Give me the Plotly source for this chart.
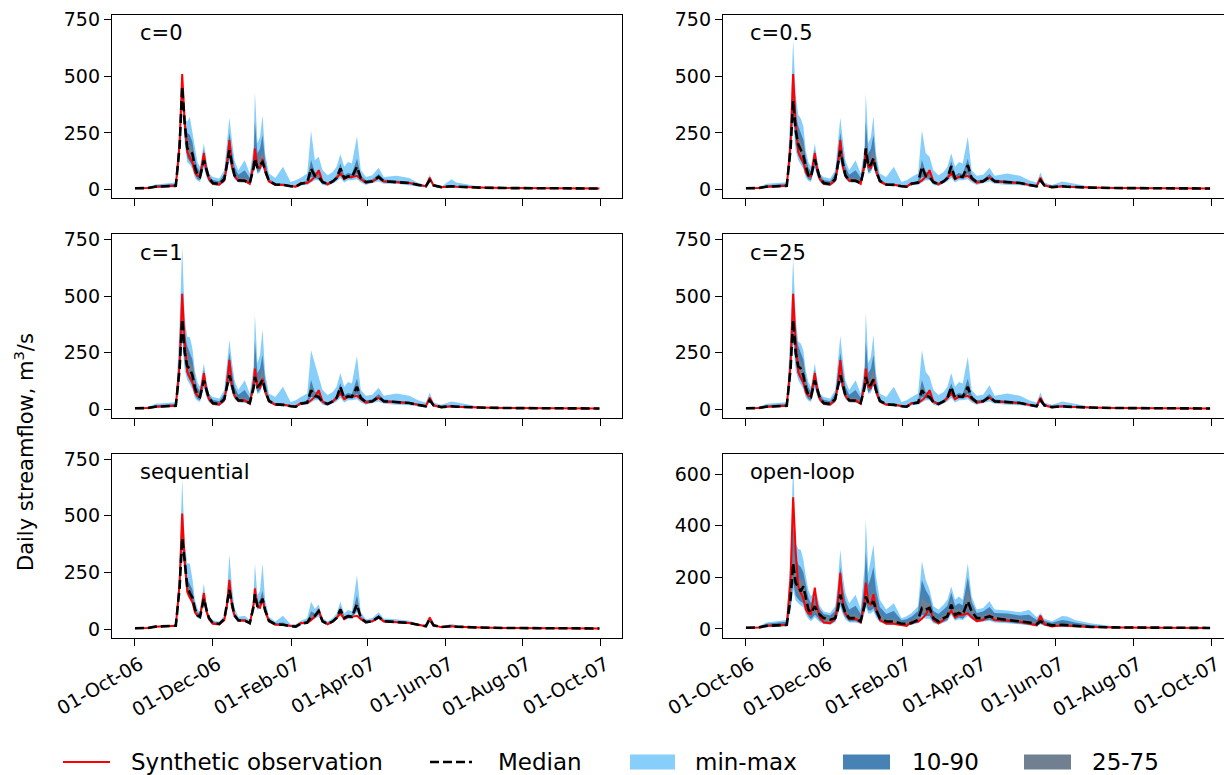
import pandas as pd
import plotly.graph_objects as go
from plotly.subplots import make_subplots

# ---------------- data ----------------
DAYS = [0, 10, 16, 25, 32, 35, 37, 39, 41, 43, 45, 47, 49, 51, 54, 56, 58, 61, 66, 70,
        72, 74, 76, 78, 81, 86, 90, 93, 94, 96, 98, 100, 102, 105, 110, 116, 122, 126, 130, 135,
        138, 141, 144, 147, 151, 155, 158, 161, 164, 167, 170, 174, 177, 181, 186, 191, 195, 205, 215, 222,
        228, 231, 234, 240, 248, 252, 258, 270, 290, 320, 364]
START_DATE = "2006-10-01"

OBS = [5, 6, 12, 14, 16, 200, 510, 300, 165, 140, 120, 75, 60, 58, 160, 80, 45, 25, 22, 40,
       100, 218, 100, 60, 38, 40, 25, 110, 180, 100, 95, 135, 80, 35, 20, 20, 14, 12, 28, 28,
       40, 55, 85, 35, 22, 35, 50, 70, 45, 55, 55, 60, 45, 30, 35, 52, 35, 33, 28, 20,
       14, 52, 18, 10, 14, 12, 10, 8, 6, 5, 4]

# c=0
MED_C0 = [5,6,12,14,16,190,454,290,181,173,158,99,62,55,129,90,50,28,24,45,110,173,115,62,40,38,28,95,136,95,110,121,85,38,22,20,14,12,25,30,92,60,55,32,24,35,50,92,50,58,55,100,50,32,36,55,36,33,28,20,14,40,18,10,14,12,10,8,6,5,4]
MIN_C0 = [4,5,8,9,10,120,380,200,120,110,90,50,38,33,95,55,32,18,14,30,80,125,75,45,30,30,20,80,120,68,75,105,60,30,18,15,10,8,18,20,30,40,40,20,15,25,35,50,30,40,40,45,30,20,28,35,25,25,20,12,8,35,12,6,8,8,6,5,4,4,3]
MAX_C0 = [6,9,22,28,30,300,512,310,300,320,250,170,120,100,204,130,70,55,48,85,204,318,217,129,85,129,70,188,432,204,232,328,158,70,50,100,33,40,52,70,259,129,144,85,63,77,100,155,100,121,114,235,85,55,63,96,55,60,50,28,20,65,22,12,45,30,25,12,8,6,5]
P10_C0 = [4,5,9,10,12,150,410,230,140,125,105,65,45,40,108,65,38,21,17,34,88,140,88,50,33,32,22,85,125,75,85,110,68,33,19,17,12,10,21,26,55,50,45,27,20,30,43,70,42,49,47,70,42,27,31,46,31,29,24,17,12,36,15,8,12,10,8,7,5,4,3]
P90_C0 = [6,8,18,22,24,250,500,305,250,240,210,140,95,80,175,115,62,42,36,68,160,250,170,100,65,85,50,150,300,160,180,240,130,46,27,26,17,15,31,38,130,75,80,40,30,43,62,115,62,72,68,135,62,40,44,68,44,40,34,24,17,48,21,12,18,15,12,9,7,6,5]
P25_C0 = [5,6,10,12,14,170,430,260,160,145,130,80,52,47,118,78,44,24,20,39,98,158,100,55,36,35,25,90,130,85,98,116,76,36,21,19,13,11,23,28,75,56,50,30,22,33,47,82,46,54,52,85,46,30,34,51,34,31,26,18,13,38,17,9,13,11,9,7,6,5,4]
P75_C0 = [5,7,15,17,19,220,480,300,215,200,185,120,78,68,150,102,56,34,29,55,130,205,140,78,50,52,36,120,200,120,140,170,100,42,25,23,16,13,28,34,110,66,65,36,27,39,55,100,55,64,60,115,55,35,39,60,39,36,30,22,15,44,19,11,16,13,11,8,6,5,4]

# c=0.5
MED_C05 = [5,6,12,14,16,180,392,260,200,175,150,100,62,55,133,90,50,28,24,45,110,171,115,62,40,38,28,100,181,100,110,137,85,38,22,20,14,12,25,30,100,60,55,32,24,35,50,103,50,58,55,107,50,32,36,55,36,33,28,20,14,40,18,10,14,12,10,8,6,5,4]
MIN_C05 = [4,5,8,9,10,110,300,170,130,110,90,50,38,33,95,55,32,18,14,30,80,125,75,45,30,30,20,80,120,68,75,105,60,30,18,15,10,8,18,20,30,40,40,20,15,25,35,50,30,40,40,45,30,20,28,35,25,20,18,12,8,30,12,6,8,8,6,5,4,4,3]
MAX_C05 = [6,10,25,30,32,350,660,420,330,314,280,170,120,100,203,130,70,55,48,85,204,318,217,129,85,129,70,188,424,204,232,324,158,70,55,100,33,40,55,70,262,160,144,85,63,77,100,160,100,121,114,233,85,60,65,96,60,70,60,40,30,75,30,20,35,30,25,12,8,6,5]
P10_C05 = [4,5,9,10,12,140,340,200,150,125,105,65,45,40,108,65,38,21,17,34,88,140,88,50,33,32,22,85,130,75,85,110,68,33,19,17,12,10,21,26,55,50,45,27,20,30,43,70,42,49,47,70,42,27,31,46,31,29,24,17,12,36,15,8,12,10,8,7,5,4,3]
P90_C05 = [6,8,18,22,24,260,520,330,280,250,220,140,95,80,175,115,62,42,36,68,160,250,170,100,65,85,50,150,300,160,180,240,130,46,27,26,17,15,31,38,130,75,80,40,30,43,62,125,62,72,68,135,62,40,44,68,44,40,34,24,17,48,21,12,18,15,12,9,7,6,5]
P25_C05 = [5,6,10,12,14,160,365,230,170,150,130,80,52,47,118,78,44,24,20,39,98,158,100,55,36,35,25,92,150,88,98,125,76,36,21,19,13,11,23,28,75,56,50,30,22,33,47,82,46,54,52,85,46,30,34,51,34,31,26,18,13,38,17,9,13,11,9,7,6,5,4]
P75_C05 = [5,7,15,17,19,210,440,300,240,210,190,120,78,68,150,102,56,34,29,55,130,205,140,78,50,52,36,120,220,125,140,180,100,42,25,23,16,13,28,34,110,66,65,36,27,39,55,115,55,64,60,115,55,35,39,60,39,36,30,22,15,44,19,11,16,13,11,8,6,5,4]

# c=1
MED_C1 = [5,6,12,14,16,180,398,250,190,180,150,95,62,55,128,88,50,28,24,45,105,150,110,62,40,38,28,95,143,100,110,131,85,38,22,20,14,12,25,30,84,60,55,32,24,35,50,99,50,58,55,99,50,32,36,55,36,33,28,20,14,40,18,10,14,12,10,8,6,5,4]
MIN_C1 = [4,5,8,9,10,110,300,170,130,110,90,50,38,33,95,55,32,18,14,30,80,125,75,45,30,30,20,80,120,68,75,105,60,30,18,15,10,8,18,20,30,40,40,20,15,25,35,50,30,40,40,45,30,20,28,35,25,20,18,12,8,30,12,6,8,8,6,5,4,4,3]
MAX_C1 = [6,10,25,30,32,380,720,400,320,318,270,170,120,100,202,130,70,55,48,85,200,306,210,129,85,129,70,188,417,204,240,353,158,70,55,100,33,40,55,70,261,205,144,85,63,77,100,161,100,121,114,235,85,60,65,96,60,70,60,40,30,75,30,20,35,30,25,12,8,6,5]
P10_C1 = [4,5,9,10,12,140,340,200,150,125,105,65,45,40,108,65,38,21,17,34,85,120,85,50,33,32,22,85,120,75,85,110,68,33,19,17,12,10,21,26,55,50,45,27,20,30,43,70,42,49,47,70,42,27,31,46,31,29,24,17,12,36,15,8,12,10,8,7,5,4,3]
P90_C1 = [6,8,18,22,24,260,520,330,280,250,220,140,95,80,175,115,62,42,36,68,160,250,170,100,65,85,50,150,300,160,180,240,130,46,27,26,17,15,31,38,130,75,80,40,30,43,62,115,62,72,68,135,62,40,44,68,44,40,34,24,17,48,21,12,18,15,12,9,7,6,5]
P25_C1 = [5,6,10,12,14,160,365,220,165,150,130,80,52,47,115,76,44,24,20,39,95,135,98,55,36,35,25,90,130,88,98,122,76,36,21,19,13,11,23,28,75,56,50,30,22,33,47,82,46,54,52,85,46,30,34,51,34,31,26,18,13,38,17,9,13,11,9,7,6,5,4]
P75_C1 = [5,7,15,17,19,210,440,300,240,210,190,120,78,68,150,102,56,34,29,55,130,205,140,78,50,52,36,120,220,125,140,180,100,42,25,23,16,13,28,34,110,66,65,36,27,39,55,100,55,64,60,115,55,35,39,60,39,36,30,22,15,44,19,11,16,13,11,8,6,5,4]

# c=25
MED_C25 = [5,6,12,14,16,180,395,250,190,180,150,95,62,55,128,88,50,28,24,45,105,150,110,62,40,38,28,95,143,100,110,131,85,38,22,20,14,12,25,30,84,60,55,32,24,35,50,99,50,58,55,99,50,32,36,55,36,33,28,20,14,40,18,10,14,12,10,8,6,5,4]
MIN_C25 = [4,5,8,9,10,110,300,170,130,110,90,50,38,33,95,55,32,18,14,30,80,125,75,45,30,30,20,80,120,68,75,105,60,30,18,15,10,8,18,20,30,40,40,20,15,25,35,50,30,40,40,45,30,20,28,35,25,20,18,12,8,30,12,6,8,8,6,5,4,4,3]
MAX_C25 = [6,10,25,30,32,360,669,400,300,291,260,170,120,100,202,130,70,55,48,85,204,324,217,129,85,129,70,188,427,204,232,328,158,70,55,100,33,40,55,70,261,165,144,85,63,77,100,161,100,121,114,232,85,60,65,106,60,70,60,40,30,75,30,20,35,30,25,12,8,6,5]
P10_C25 = [4,5,9,10,12,140,340,200,150,125,105,65,45,40,108,65,38,21,17,34,85,120,85,50,33,32,22,85,120,75,85,110,68,33,19,17,12,10,21,26,55,50,45,27,20,30,43,70,42,49,47,70,42,27,31,46,31,29,24,17,12,36,15,8,12,10,8,7,5,4,3]
P90_C25 = [6,8,18,22,24,260,520,330,280,250,220,140,95,80,175,115,62,42,36,68,160,250,170,100,65,85,50,150,300,160,180,240,130,46,27,26,17,15,31,38,130,75,80,40,30,43,62,115,62,72,68,135,62,40,44,68,44,40,34,24,17,48,21,12,18,15,12,9,7,6,5]
P25_C25 = [5,6,10,12,14,160,365,220,165,150,130,80,52,47,115,76,44,24,20,39,95,135,98,55,36,35,25,90,130,88,98,122,76,36,21,19,13,11,23,28,75,56,50,30,22,33,47,82,46,54,52,85,46,30,34,51,34,31,26,18,13,38,17,9,13,11,9,7,6,5,4]
P75_C25 = [5,7,15,17,19,210,440,300,240,210,190,120,78,68,150,102,56,34,29,55,130,205,140,78,50,52,36,120,220,125,140,180,100,42,25,23,16,13,28,34,110,66,65,36,27,39,55,100,55,64,60,115,55,35,39,60,39,36,30,22,15,44,19,11,16,13,11,8,6,5,4]

# sequential
MED_SEQ = [5,6,12,14,16,185,402,300,185,160,140,90,62,55,135,88,50,28,24,45,110,173,115,62,40,38,28,100,155,100,110,135,85,38,22,20,14,12,25,30,55,60,80,35,24,35,50,87,50,58,55,110,50,32,36,55,36,33,28,20,14,45,18,10,14,12,10,8,6,5,4]
MIN_SEQ = [4,5,10,12,14,150,330,240,150,130,110,70,50,45,110,70,42,22,18,36,90,145,95,52,34,32,22,85,130,85,92,115,70,32,18,16,11,9,20,24,40,48,55,28,19,29,42,65,40,46,45,75,40,26,30,45,30,28,23,15,10,38,14,8,11,9,8,6,5,4,3]
MAX_SEQ = [6,8,16,18,20,300,662,380,290,290,223,130,90,75,202,115,62,40,35,60,150,330,190,95,55,60,40,150,290,150,170,290,130,55,35,60,22,22,38,50,122,90,110,50,35,50,70,122,70,85,80,238,75,45,50,75,48,45,38,25,18,60,22,12,25,18,14,10,7,6,5]
P10_SEQ = [4,5,11,13,15,165,360,270,165,145,125,78,55,50,120,78,45,25,20,40,100,158,105,56,37,35,25,92,140,92,100,122,76,35,20,18,12,10,22,27,45,52,65,31,21,32,45,75,45,52,50,85,45,29,33,50,33,30,25,17,12,40,16,9,12,10,9,7,5,4,3]
P90_SEQ = [6,7,14,16,18,230,470,330,220,200,175,110,75,65,160,102,56,34,29,52,125,210,140,72,46,46,33,115,190,115,130,170,100,44,27,30,17,16,30,37,80,70,95,42,29,40,58,100,58,66,62,150,58,37,41,62,41,38,32,22,16,50,20,11,17,14,12,9,7,5,4]
P25_SEQ = [5,6,11,13,15,175,385,285,175,152,132,84,58,52,128,83,47,26,22,42,105,165,110,59,38,36,26,96,148,96,105,128,80,36,21,19,13,11,23,28,50,56,72,33,22,33,47,80,47,55,52,95,47,30,34,52,34,31,26,18,13,42,17,9,13,11,9,7,6,5,4]
P75_SEQ = [5,7,13,15,17,205,430,315,200,175,155,98,68,60,145,95,53,31,27,48,118,190,125,67,43,42,31,106,170,106,120,150,92,41,24,23,15,14,28,33,65,64,88,38,27,38,54,95,54,62,58,128,54,35,39,59,39,36,30,22,15,48,19,11,15,13,11,9,6,5,4]

# open-loop
MED_OL = [5,6,12,14,16,120,255,178,160,146,165,113,75,62,88,70,55,42,36,42,75,133,90,62,42,42,30,90,126,100,95,107,75,42,29,29,20,20,23,36,81,75,81,42,29,42,49,94,55,62,55,107,68,42,42,49,42,35,30,25,18,30,20,14,16,15,12,8,6,5,4]
MIN_OL = [4,5,8,8,10,70,150,110,100,90,85,55,40,30,45,35,26,20,16,25,50,85,55,38,25,25,20,60,85,60,60,70,45,25,18,16,12,12,15,22,45,40,40,22,16,25,30,55,32,38,35,50,38,25,28,32,25,22,18,14,10,18,12,8,9,8,7,5,4,4,3]
MAX_OL = [6,10,25,30,35,280,655,330,310,307,268,204,150,126,152,126,88,68,62,88,178,307,204,139,100,133,75,242,423,217,268,326,204,113,75,100,42,49,62,88,262,191,152,88,75,94,113,165,113,126,113,255,126,75,81,107,75,72,65,74,45,61,40,30,50,48,35,22,10,7,5]
P10_OL = [4,5,9,10,12,85,180,130,115,105,100,70,50,38,55,45,32,25,20,30,58,100,65,45,30,30,22,70,100,72,72,80,55,30,21,19,14,14,17,26,55,50,50,27,19,29,35,65,38,44,40,62,45,30,32,36,30,26,21,16,12,20,14,10,11,10,8,6,5,4,3]
P90_OL = [6,8,20,24,28,200,420,280,250,240,220,170,120,100,125,105,75,58,52,70,140,240,160,110,75,90,58,180,300,170,200,240,150,85,58,70,34,38,48,70,190,150,125,70,58,75,90,140,90,100,92,200,105,62,68,85,62,60,52,55,35,50,32,24,35,32,25,15,8,6,5]
P25_OL = [5,6,10,12,14,100,215,150,135,125,120,90,60,48,70,55,42,32,27,35,65,115,75,52,35,35,25,80,112,85,82,92,65,35,24,23,17,17,20,30,65,60,62,33,23,35,40,78,45,52,46,80,55,35,36,42,35,30,25,20,15,24,17,12,13,12,10,7,5,5,4]
P75_OL = [5,7,15,18,21,160,320,230,200,190,190,140,95,80,105,85,65,50,44,55,100,175,120,80,55,58,40,120,180,130,130,150,100,55,38,40,26,27,32,50,120,105,100,55,40,55,65,115,72,80,72,150,88,52,52,62,52,45,40,35,26,40,26,18,22,20,16,11,7,6,4]

PANEL_LABELS = ["c=0", "c=0.5", "c=1", "c=25", "sequential", "open-loop"]
TICK_DATES = ["2006-10-01", "2006-12-01", "2007-02-01", "2007-04-01",
              "2007-06-01", "2007-08-01", "2007-10-01"]
TICK_LABELS = ["01-Oct-06", "01-Dec-06", "01-Feb-07", "01-Apr-07",
               "01-Jun-07", "01-Aug-07", "01-Oct-07"]
YTICKS_MAIN = [0, 250, 500, 750]
YTICKS_OL = [0, 200, 400, 600]
LEGEND_NAMES = ["Synthetic observation", "Median", "min-max", "10-90", "25-75"]

PANEL_DATA = [
    (MED_C0, MIN_C0, MAX_C0, P10_C0, P90_C0, P25_C0, P75_C0),
    (MED_C05, MIN_C05, MAX_C05, P10_C05, P90_C05, P25_C05, P75_C05),
    (MED_C1, MIN_C1, MAX_C1, P10_C1, P90_C1, P25_C1, P75_C1),
    (MED_C25, MIN_C25, MAX_C25, P10_C25, P90_C25, P25_C25, P75_C25),
    (MED_SEQ, MIN_SEQ, MAX_SEQ, P10_SEQ, P90_SEQ, P25_SEQ, P75_SEQ),
    (MED_OL, MIN_OL, MAX_OL, P10_OL, P90_OL, P25_OL, P75_OL),
]

# ---------------- styling / layout ----------------
W, H = 1224, 775
FONT = "DejaVu Sans"
C_MINMAX = "#87CEFA"
C_1090 = "#4682B4"
C_2575 = "#708090"
C_OBS = "#FF0000"
C_MED = "#000000"
MED_DASH = "9px,4px"

dates = [(pd.Timestamp(START_DATE) + pd.Timedelta(days=d)).strftime("%Y-%m-%d") for d in DAYS]

fig = make_subplots(rows=3, cols=2)

# pixel boxes (left, right) and (top, bottom)
COL_X = [(112, 622), (723, 1224)]
ROW_Y = [(14.8, 198.0), (234.4, 418.0), (454.0, 638.0)]
XR = [["2006-09-13", "2007-10-17 17:00"], ["2006-09-13", "2007-10-10 22:00"]]


def band(xs, lo, hi):
    return xs + xs[::-1], list(hi) + list(lo)[::-1]


for i, (label, pdata) in enumerate(zip(PANEL_LABELS, PANEL_DATA)):
    r, c = i // 2 + 1, i % 2 + 1
    med, mn, mx, p10, p90, p25, p75 = pdata
    for (lo, hi, col, name) in [(mn, mx, C_MINMAX, "min-max"),
                                (p10, p90, C_1090, "10-90"),
                                (p25, p75, C_2575, "25-75")]:
        bx, by = band(dates, lo, hi)
        fig.add_trace(go.Scatter(x=bx, y=by, fill="toself", fillcolor=col,
                                 line=dict(width=0, color=col), mode="lines",
                                 name=name, showlegend=False,
                                 hoverinfo="skip"), row=r, col=c)
    fig.add_trace(go.Scatter(x=dates, y=OBS, mode="lines",
                             line=dict(color=C_OBS, width=2),
                             name="Synthetic observation", showlegend=False), row=r, col=c)
    fig.add_trace(go.Scatter(x=dates, y=med, mode="lines",
                             line=dict(color=C_MED, width=2.6, dash=MED_DASH),
                             name="Median", showlegend=False), row=r, col=c)

axis_common = dict(showline=True, mirror=True, linecolor="black", linewidth=1.3,
                   ticks="outside", ticklen=7, tickwidth=1.3, tickcolor="black",
                   showgrid=False, zeroline=False,
                   tickfont=dict(family=FONT, size=19, color="black"))

for i in range(6):
    r, c = i // 2, i % 2
    xl, xr = COL_X[c]
    yt, yb = ROW_Y[r]
    suffix = "" if i == 0 else str(i + 1)
    bottom = (r == 2)
    fig.layout["xaxis" + suffix].update(
        domain=[xl / W, xr / W], range=XR[c], type="date",
        tickvals=TICK_DATES, ticktext=TICK_LABELS, showticklabels=bottom,
        tickangle=-30, ticklabelshift=5, **axis_common)
    is_ol = (i == 5)
    fig.layout["yaxis" + suffix].update(
        domain=[1 - yb / H, 1 - yt / H],
        range=[-35, 678] if is_ol else [-38, 772],
        tickvals=YTICKS_OL if is_ol else YTICKS_MAIN,
        **axis_common)
    xref = "x" + suffix
    yref = "y" + suffix
    fig.add_annotation(text=PANEL_LABELS[i], xref=xref + " domain", yref=yref + " domain",
                       x=0.05, y=0.90, xanchor="left", yanchor="middle", showarrow=False,
                       font=dict(family=FONT, size=21, color="black"))

fig.add_annotation(text="Daily streamflow, m<sup>3</sup>/s", xref="paper", yref="paper",
                   x=24 / W, y=1 - 452 / H, xanchor="center", yanchor="middle",
                   textangle=-90, showarrow=False,
                   font=dict(family=FONT, size=21, color="black"))

# ---------------- legend (drawn in figure pixels) ----------------
LEG_Y = 762
leg_handles = [(63, 110), (430, 472), (630, 675), (843, 890), (1024, 1071)]
leg_text_x = [129, 496, 693, 910, 1090]
leg_kind = ["line", "dash", "patch", "patch", "patch"]
leg_color = [C_OBS, C_MED, C_MINMAX, C_1090, C_2575]
shapes = []
for (x0, x1), kind, col in zip(leg_handles, leg_kind, leg_color):
    if kind == "patch":
        shapes.append(dict(type="rect", xref="paper", yref="paper",
                           x0=x0 / W, x1=x1 / W, y0=1 - (LEG_Y + 7.5) / H, y1=1 - (LEG_Y - 7.5) / H,
                           fillcolor=col, line=dict(width=0)))
    else:
        shapes.append(dict(type="line", xref="paper", yref="paper",
                           x0=x0 / W, x1=x1 / W, y0=1 - LEG_Y / H, y1=1 - LEG_Y / H,
                           line=dict(color=col, width=2 if kind == "line" else 2.6,
                                     dash="solid" if kind == "line" else MED_DASH)))
for name, tx in zip(LEGEND_NAMES, leg_text_x):
    fig.add_annotation(text=name, xref="paper", yref="paper", x=tx / W, y=1 - LEG_Y / H,
                       xanchor="left", yanchor="middle", showarrow=False,
                       font=dict(family=FONT, size=23, color="black"))

fig.update_layout(width=W, height=H,
                  margin=dict(l=0, r=0, t=0, b=0, autoexpand=False),
                  paper_bgcolor="white", plot_bgcolor="white",
                  font=dict(family=FONT, size=21, color="black"),
                  showlegend=False, shapes=shapes)

fig.write_html("out.html")
